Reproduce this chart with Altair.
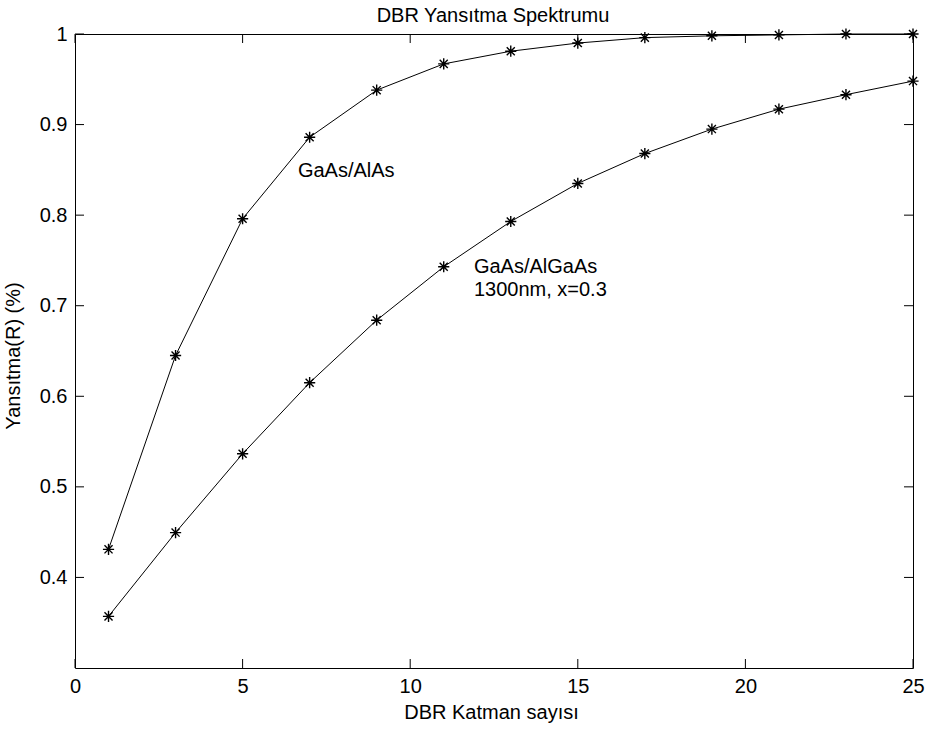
import altair as alt
import pandas as pd

# Number of DBR layer pairs
layers = [1, 3, 5, 7, 9, 11, 13, 15, 17, 19, 21, 23, 25]

# Reflectance for the two mirror material systems
r_gaas_alas = [0.431, 0.645, 0.796, 0.886, 0.938, 0.967, 0.981, 0.990,
               0.996, 0.998, 0.999, 1.000, 1.000]
r_gaas_algaas = [0.357, 0.4495, 0.5365, 0.615, 0.684, 0.743, 0.793, 0.835,
                 0.868, 0.895, 0.917, 0.933, 0.948]

# Axis ticks
x_ticks = [0, 5, 10, 15, 20, 25]
y_ticks = [0.4, 0.5, 0.6, 0.7, 0.8, 0.9, 1.0]

# In-plot curve labels
note_x = [6.65, 11.9, 11.9]
note_y = [0.8425, 0.7361, 0.7103]
note_text = ["GaAs/AlAs", "GaAs/AlGaAs", "1300nm, x=0.3"]

TITLE = "DBR Yansıtma Spektrumu"

FONT = "Liberation Sans"
FS = 20
W, H = 838, 634
TICK = 9

# MATLAB-style asterisk marker
STAR = "M-1,0L1,0M0,-1L0,1M-0.72,-0.72L0.72,0.72M-0.72,0.72L0.72,-0.72"

curves = pd.DataFrame({
    "layers": layers * 2,
    "R": r_gaas_alas + r_gaas_algaas,
    "series": ["GaAs/AlAs"] * len(layers) + ["GaAs/AlGaAs"] * len(layers),
})
xt = pd.DataFrame({"v": x_ticks})
yt = pd.DataFrame({"v": y_ticks})
notes = pd.DataFrame({"x": note_x, "y": note_y, "t": note_text})
head = pd.DataFrame({"t": [TITLE]})

x_scale = alt.Scale(domain=[0, 25], nice=False, zero=False)
y_scale = alt.Scale(domain=[0.3, 1.0], nice=False, zero=False)

x_enc = alt.X(
    "layers:Q", scale=x_scale,
    axis=alt.Axis(
        values=x_ticks, format="d", title="DBR Katman sayısı",
        ticks=False, domain=False, grid=False, labelFlush=False,
        labelBaseline="alphabetic", labelPadding=24,
        titleBaseline="alphabetic", titleX=416, titleY=50,
        titleAlign="center",
    ),
)
y_enc = alt.Y(
    "R:Q", scale=y_scale,
    axis=alt.Axis(
        values=y_ticks, format="~g", title="Yansıtma(R) (%)",
        ticks=False, domain=False, grid=False, labelFlush=False,
        labelBaseline="middle", labelPadding=8,
        titleBaseline="alphabetic", titleX=-55.5, titleY=321.5,
        titleAlign="center", titleAngle=-90,
    ),
)

lines = alt.Chart(curves).mark_line(color="black", strokeWidth=1).encode(
    x=x_enc, y=y_enc, detail="series:N"
)
points = alt.Chart(curves).mark_point(
    shape=STAR, filled=False, stroke="black", strokeWidth=1.4, size=125,
    opacity=1,
).encode(x=alt.X("layers:Q", scale=x_scale), y=alt.Y("R:Q", scale=y_scale))

# Inward ticks on all four sides of the box
tick_bottom = alt.Chart(xt).mark_rule(color="black", strokeWidth=1).encode(
    x=alt.X("v:Q", scale=x_scale), y=alt.value(H), y2=alt.value(H - TICK)
)
tick_top = alt.Chart(xt).mark_rule(color="black", strokeWidth=1).encode(
    x=alt.X("v:Q", scale=x_scale), y=alt.value(0), y2=alt.value(TICK)
)
tick_left = alt.Chart(yt).mark_rule(color="black", strokeWidth=1).encode(
    y=alt.Y("v:Q", scale=y_scale), x=alt.value(0), x2=alt.value(TICK)
)
tick_right = alt.Chart(yt).mark_rule(color="black", strokeWidth=1).encode(
    y=alt.Y("v:Q", scale=y_scale), x=alt.value(W), x2=alt.value(W - TICK)
)

labels = alt.Chart(notes).mark_text(
    align="left", baseline="alphabetic", font=FONT, fontSize=FS, color="black"
).encode(
    x=alt.X("x:Q", scale=x_scale), y=alt.Y("y:Q", scale=y_scale), text="t:N"
)

# Chart heading, centred over the plot box
heading = alt.Chart(head).mark_text(
    align="center", baseline="alphabetic", font=FONT, fontSize=FS,
    color="black",
).encode(x=alt.value(W / 2 - 1), y=alt.value(-12), text="t:N")

chart = alt.layer(
    lines, points, tick_bottom, tick_top, tick_left, tick_right, labels,
    heading,
).properties(
    width=W, height=H,
    autosize=alt.AutoSizeParams(type="none"),
    padding={"left": 75, "top": 34, "right": 15, "bottom": 63},
    background="white",
).configure_view(
    stroke="black", strokeWidth=1
).configure_axis(
    labelFont=FONT, labelFontSize=FS, labelColor="black",
    titleFont=FONT, titleFontSize=FS, titleFontWeight="normal",
    titleColor="black",
)

chart.save("out.html", embed_options={"renderer": "svg", "actions": False})
